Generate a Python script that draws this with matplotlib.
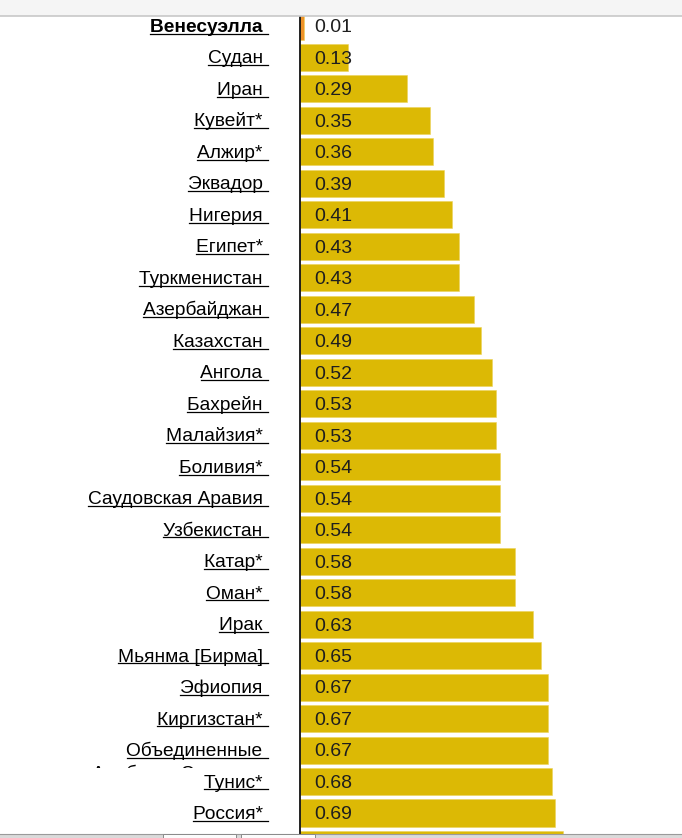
import matplotlib
matplotlib.use("Agg")
import matplotlib.pyplot as plt
from matplotlib.transforms import Bbox, TransformedBbox
from matplotlib.lines import Line2D
from matplotlib.patches import Rectangle

plt.rcParams['font.family'] = ['Liberation Sans', 'DejaVu Sans']

countries = ["Венесуэлла", "Судан", "Иран", "Кувейт*", "Алжир*", "Эквадор",
             "Нигерия", "Египет*", "Туркменистан", "Азербайджан", "Казахстан",
             "Ангола", "Бахрейн", "Малайзия*", "Боливия*", "Саудовская Аравия",
             "Узбекистан", "Катар*", "Оман*", "Ирак", "Мьянма [Бирма]",
             "Эфиопия", "Киргизстан*", "Объединенные\nАрабские Эмираты",
             "Тунис*", "Россия*", ""]
values = [0.01, 0.13, 0.29, 0.35, 0.36, 0.39, 0.41, 0.43, 0.43, 0.47, 0.49,
          0.52, 0.53, 0.53, 0.54, 0.54, 0.54, 0.58, 0.58, 0.63, 0.65, 0.67,
          0.67, 0.67, 0.68, 0.69, 0.71]
highlight = "Венесуэлла"

BAR = "#dcb905"
HIGH = "#ee9228"

W, H = 682, 838
AX_X = 300          # px of axis line
PX_PER_UNIT = 370.0
PITCH = 31.48
Y0 = 26

fig = plt.figure(figsize=(W / 100, H / 100), dpi=100)
fig.patch.set_facecolor("white")
ax = fig.add_axes([AX_X / W, 0, 1 - AX_X / W, 1])
ax.set_xlim(0, (W - AX_X) / PX_PER_UNIT)
ax.set_ylim((H - Y0) / PITCH, -Y0 / PITCH)
for s in ["top", "right", "bottom"]:
    ax.spines[s].set_visible(False)
ax.spines["left"].set_color("#111111")
ax.spines["left"].set_linewidth(1.3)
ax.set_xticks([])
ax.set_yticks([])

pos = list(range(len(values)))
colors = [HIGH if c == highlight else BAR for c in countries]
ax.barh(pos, values, height=0.86, color=colors, edgecolor="#ecd35a",
        linewidth=0.4, zorder=2)

val_x = 14 / PX_PER_UNIT
lab_x = -32 / PX_PER_UNIT
base_off = 6.0 / PITCH
FS_LAB = 13.8
FS_VAL = 14

label_texts = []
for i, (c, v) in enumerate(zip(countries, values)):
    if not c:
        continue  # row cut off by the window edge: only the bar sliver shows
    ax.text(val_x, i + 0.06, f"{v:.2f}", va="center", ha="left",
            fontsize=FS_VAL, color="#1e1e1e", zorder=3)
    lines = c.split("\n")
    t = ax.text(lab_x, i + base_off, lines[0] + " ", va="baseline", ha="right",
                fontsize=FS_LAB, color="black", clip_on=False,
                fontweight="bold" if c == highlight else "normal")
    label_texts.append((t, i + base_off))
    if len(lines) > 1:
        clipbox = TransformedBbox(Bbox.from_extents(-1, i + 0.45, 0, i + 0.585),
                                  ax.transData)
        t2 = ax.text(lab_x, i + base_off + 0.72, lines[1] + " ", va="baseline",
                     ha="right", fontsize=FS_LAB, color="black", clip_on=True)
        t2.set_clip_path(None)
        t2.set_clip_box(clipbox)

fig.canvas.draw()
renderer = fig.canvas.get_renderer()
for t, yb in label_texts:
    bb = t.get_window_extent(renderer)
    ybase = ax.transData.transform((0, yb))[1] - 1.8
    fig.add_artist(Line2D([bb.x0 / W, bb.x1 / W], [ybase / H, ybase / H],
                          transform=fig.transFigure, color="black",
                          linewidth=0.9, zorder=5))

# browser chrome strips (top toolbar edge, bottom sheet tabs)
fig.add_artist(Rectangle((0, (H - 16) / H), 1, 16 / H, transform=fig.transFigure,
                         facecolor="#f5f5f5", edgecolor="none", zorder=10))
fig.add_artist(Line2D([0, 1], [(H - 16.5) / H] * 2, transform=fig.transFigure,
                      color="#c8c8c8", linewidth=1.2, zorder=11))
fig.add_artist(Rectangle((0, 0), 1, 4.5 / H, transform=fig.transFigure,
                         facecolor="#dadada", edgecolor="none", zorder=10))
fig.add_artist(Line2D([0, 1], [4.5 / H] * 2, transform=fig.transFigure,
                      color="#9a9a9a", linewidth=0.8, zorder=11))
for x0, x1 in [(163, 236), (241, 315)]:
    fig.add_artist(Rectangle((x0 / W, 0), (x1 - x0) / W, 4 / H,
                             transform=fig.transFigure, facecolor="#fbfbfb",
                             edgecolor="#8a8a8a", linewidth=0.7, zorder=12))

fig.savefig("out.png", dpi=100, facecolor="white")
